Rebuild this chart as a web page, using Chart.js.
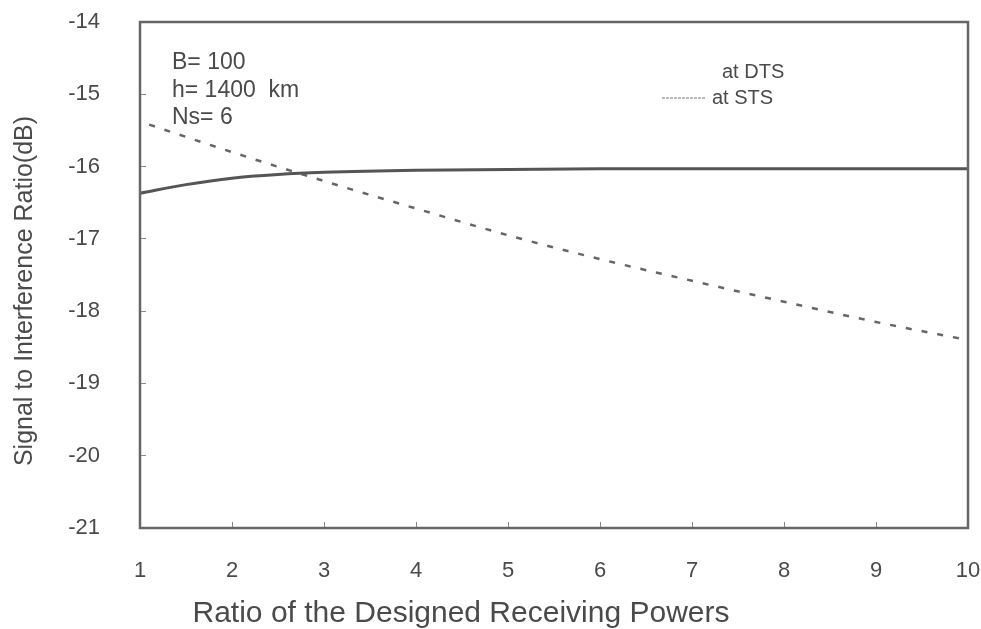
<!DOCTYPE html>
<html>
<head>
<meta charset="utf-8">
<script src="https://cdn.jsdelivr.net/npm/chart.js@4"></script>
<style>
  html, body { margin: 0; padding: 0; background: #fff; }
  canvas { display: block; }
</style>
</head>
<body>
<canvas id="snrChart" width="981" height="629"></canvas>
<script>
// データ
var dtsX = [1, 1.5, 2, 2.5, 3, 4, 5, 6, 7, 8, 9, 10];
var dtsY = [-16.37, -16.25, -16.16, -16.11, -16.08, -16.05, -16.04, -16.03, -16.03, -16.03, -16.03, -16.03];
var stsX = [1.1, 2, 3, 4, 5, 6, 7, 8, 9, 10];
var stsY = [-15.42, -15.80, -16.20, -16.58, -16.95, -17.28, -17.58, -17.87, -18.15, -18.40];
var xTicks = [1, 2, 3, 4, 5, 6, 7, 8, 9, 10];
var yTicks = [-21, -20, -19, -18, -17, -16, -15, -14];
var paramText = ["B= 100", "h= 1400  km", "Ns= 6"];
var legendText = ["at DTS", "at STS"];
var xTitle = "Ratio of the Designed Receiving Powers";
var yTitle = "Signal to Interference Ratio(dB)";

var lineColor = "#555";
var textColor = "#4a4a4a";
var fontFamily = "'Liberation Sans', Arial, sans-serif";

function toPoints(xs, ys) {
  var pts = [];
  for (var i = 0; i < xs.length; i++) {
    pts.push({ x: xs[i], y: ys[i] });
  }
  return pts;
}

// 軸の余白を消す (レイアウトを固定)
function clearPadding(scale) {
  scale.paddingTop = 0;
  scale.paddingBottom = 0;
  scale.paddingLeft = 0;
  scale.paddingRight = 0;
}

// 枠・軸タイトル・注記・凡例
var decoPlugin = {
  id: "deco",
  afterDraw: function (chart) {
    var ctx = chart.ctx;
    var a = chart.chartArea;
    ctx.save();
    // 外枠
    ctx.strokeStyle = "#666";
    ctx.lineWidth = 2.5;
    ctx.strokeRect(a.left, a.top, a.right - a.left, a.bottom - a.top);

    ctx.fillStyle = textColor;

    // 軸タイトル
    ctx.textAlign = "center";
    ctx.textBaseline = "middle";
    ctx.font = "30px " + fontFamily;
    ctx.fillText(xTitle, 461, 614);
    ctx.save();
    ctx.translate(25, 291);
    ctx.rotate(-Math.PI / 2);
    ctx.font = "25px " + fontFamily;
    ctx.fillText(yTitle, 0, 0);
    ctx.restore();

    // パラメータ
    ctx.font = "23px " + fontFamily;
    ctx.textBaseline = "alphabetic";
    ctx.textAlign = "left";
    for (var i = 0; i < paramText.length; i++) {
      ctx.fillText(paramText[i], a.left + 32, a.top + 47 + i * 27.5);
    }

    // 凡例
    ctx.font = "20px " + fontFamily;
    ctx.fillText(legendText[0], 722, 78);
    ctx.fillText(legendText[1], 712, 104);
    ctx.strokeStyle = "#777";
    ctx.lineWidth = 1.2;
    ctx.setLineDash([3, 1]);
    ctx.beginPath();
    ctx.moveTo(662, 98);
    ctx.lineTo(705, 98);
    ctx.stroke();
    ctx.restore();
  }
};

var ctx = document.getElementById("snrChart");

var snrChart = new Chart(ctx, {
  type: "line",
  data: {
    datasets: [
      {
        label: "at DTS",
        data: toPoints(dtsX, dtsY),
        borderColor: lineColor,
        borderWidth: 3,
        pointRadius: 0,
        cubicInterpolationMode: "monotone",
        fill: false
      },
      {
        label: "at STS",
        data: toPoints(stsX, stsY),
        borderColor: "#666",
        borderWidth: 2.5,
        borderDash: [6, 10],
        pointRadius: 0,
        cubicInterpolationMode: "monotone",
        fill: false
      }
    ]
  },
  options: {
    responsive: false,
    animation: false,
    layout: { autoPadding: false, padding: { top: 22, right: 13, left: 0, bottom: 0 } },
    plugins: {
      legend: { display: false },
      tooltip: { enabled: false }
    },
    scales: {
      x: {
        type: "linear",
        min: 1,
        max: 10,
        afterBuildTicks: function (scale) {
          scale.ticks = xTicks.map(function (v) { return { value: v }; });
        },
        afterFit: function (scale) { scale.height = 101; clearPadding(scale); },
        border: { display: false },
        grid: { drawOnChartArea: false, drawTicks: true, tickLength: -6, color: "#888", lineWidth: 1 },
        ticks: {
          color: textColor,
          padding: 36,
          font: { family: fontFamily, size: 22 }
        }
      },
      y: {
        type: "linear",
        min: -21,
        max: -14,
        afterBuildTicks: function (scale) {
          scale.ticks = yTicks.map(function (v) { return { value: v }; });
        },
        afterFit: function (scale) { scale.width = 140; clearPadding(scale); },
        border: { display: false },
        grid: { drawOnChartArea: false, drawTicks: true, tickLength: -6, color: "#888", lineWidth: 1 },
        ticks: {
          color: textColor,
          padding: 46,
          font: { family: fontFamily, size: 22 }
        }
      }
    }
  },
  plugins: [decoPlugin]
});
</script>
</body>
</html>
